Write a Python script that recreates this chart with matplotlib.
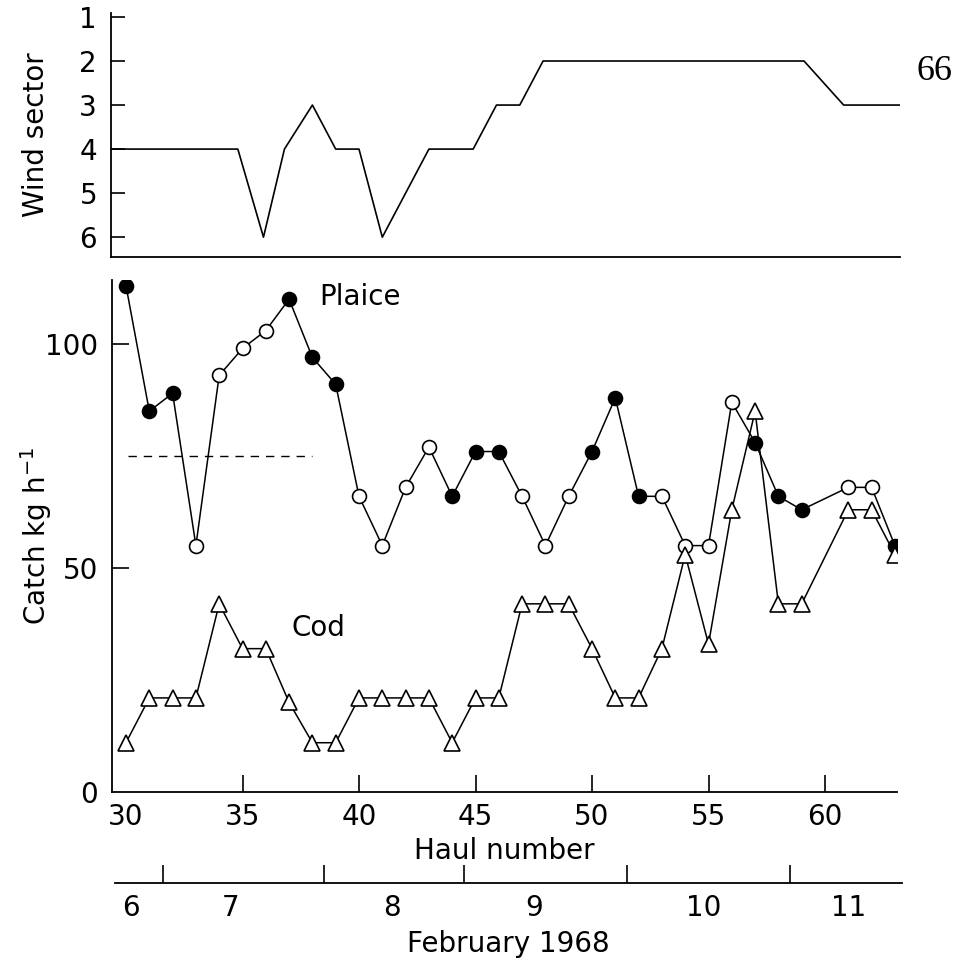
import matplotlib
matplotlib.use("Agg")
import matplotlib.pyplot as plt

plt.rcParams['font.family'] = ['DejaVu Sans']

# wind sector (top panel)
wind_haul = [29.4, 34.8, 35.9, 36.8, 38.0, 39.0, 40.0, 41.0, 43.0, 44.9, 45.9, 46.9, 47.9, 59.1, 60.8, 63.2]
wind_sector = [4, 4, 6, 4, 3, 4, 4, 6, 4, 4, 3, 3, 2, 2, 3, 3]

# catch (main panel)
haul = [30, 31, 32, 33, 34, 35, 36, 37, 38, 39, 40, 41, 42, 43, 44, 45, 46,
        47, 48, 49, 50, 51, 52, 53, 54, 55, 56, 57, 58, 59, 61, 62, 63]
plaice = [113, 85, 89, 55, 93, 99, 103, 110, 97, 91, 66, 55, 68, 77, 66, 76, 76,
          66, 55, 66, 76, 88, 66, 66, 55, 55, 87, 78, 66, 63, 68, 68, 55]
plaice_filled = [1, 1, 1, 0, 0, 0, 0, 1, 1, 1, 0, 0, 0, 0, 1, 1, 1,
                 0, 0, 0, 1, 1, 1, 0, 0, 0, 0, 1, 1, 1, 0, 0, 1]
cod = [11, 21, 21, 21, 42, 32, 32, 20, 11, 11, 21, 21, 21, 21, 11, 21, 21,
       42, 42, 42, 32, 21, 21, 32, 53, 33, 63, 85, 42, 42, 63, 63, 53]
mean_haul = [30.1, 38.0]
mean_plaice = [75, 75]

# February 1968 day axis
day_ticks = [31.6, 38.5, 44.5, 51.5, 58.5]
day_pos = [30.2, 34.5, 41.4, 47.5, 54.8, 61.0]
day_labels = ['6', '7', '8', '9', '10', '11']

W, H = 967, 963
def xl(l, r):
    # pixel edges -> haul numbers (haul 30 at x=126, 23.3 px per haul)
    return (30 + (l - 126) / 23.3, 30 + (r - 126) / 23.3)

fig = plt.figure(figsize=(9.67, 9.63), dpi=100)
fs = 20

# top panel
ax1 = fig.add_axes([111 / W, 1 - 257 / H, (900 - 111) / W, (257 - 13) / H])
ax1.plot(wind_haul, wind_sector, color='black', lw=1.2)
ax1.set_xlim(*xl(111, 900))
ax1.set_ylim(6.45, 0.91)
ax1.set_yticks([1, 2, 3, 4, 5, 6])
ax1.set_xticks([])
ax1.spines['top'].set_visible(False)
ax1.spines['right'].set_visible(False)
for s in ['left', 'bottom']:
    ax1.spines[s].set_linewidth(1.3)
ax1.tick_params(axis='y', direction='in', length=10, width=1.2, pad=10, labelsize=fs)
ax1.set_ylabel('Wind sector', fontsize=fs)
ax1.yaxis.set_label_coords((50 - 111) / 789, 0.5)
fig.text(935 / W, 1 - 72 / H, '66', fontsize=26, family='Liberation Serif',
         ha='center', va='center')

# main panel
ax = fig.add_axes([112 / W, 1 - 792 / H, (897 - 112) / W, (792 - 280) / H])
ax.plot(mean_haul, mean_plaice, color='black', lw=1.0, linestyle=(0, (6, 5)))
ax.plot(haul, plaice, color='black', lw=1.1, zorder=2)
ax.plot(haul, cod, color='black', lw=1.1, zorder=2)
for h, v, f in zip(haul, plaice, plaice_filled):
    ax.plot(h, v, marker='o', markersize=10, markeredgewidth=1.2,
            markeredgecolor='black', markerfacecolor='black' if f else 'white', zorder=3)
ax.plot(haul, cod, linestyle='none', marker='^', markersize=11, markeredgewidth=1.2,
        markeredgecolor='black', markerfacecolor='white', zorder=3)
ax.annotate('Plaice', xy=(360 / W, 1 - 297 / H), xycoords='figure fraction',
            fontsize=fs, ha='center', va='center')
ax.annotate('Cod', xy=(318 / W, 1 - 628 / H), xycoords='figure fraction',
            fontsize=fs, ha='center', va='center')
ax.set_xlim(*xl(112, 897))
ax.set_ylim(0, (792 - 280) / 4.48)
ax.set_yticks([0, 50, 100])
ax.set_xticks([30, 35, 40, 45, 50, 55, 60])
ax.xaxis.get_major_ticks()[0].tick1line.set_visible(False)
ax.yaxis.get_major_ticks()[0].tick1line.set_visible(False)
ax.spines['top'].set_visible(False)
ax.spines['right'].set_visible(False)
for s in ['left', 'bottom']:
    ax.spines[s].set_linewidth(1.3)
ax.tick_params(direction='in', length=12, width=1.2, labelsize=fs)
ax.tick_params(axis='x', pad=8)
ax.tick_params(axis='y', pad=10)
ax.set_xlabel('Haul number', fontsize=fs, labelpad=4)
ax.set_ylabel('Catch kg h$^{-1}$', fontsize=fs)
ax.yaxis.set_label_coords((54 - 112) / 785, 0.5)

# date axis
ax2 = fig.add_axes([115 / W, 1 - 883 / H, (902 - 115) / W, 0.01])
ax2.set_xlim(*xl(115, 902))
ax2.set_ylim(0, 1)
for s in ['left', 'right', 'top']:
    ax2.spines[s].set_visible(False)
ax2.spines['bottom'].set_linewidth(1.3)
ax2.set_yticks([])
ax2.set_xticks(day_ticks)
ax2.set_xticklabels([])
ax2.set_xticks(day_pos, minor=True)
ax2.set_xticklabels(day_labels, minor=True)
ax2.tick_params(axis='x', which='major', direction='in', length=13, width=1.2)
ax2.tick_params(axis='x', which='minor', length=0, pad=8, labelsize=fs)
ax2.set_xlabel('February 1968', fontsize=fs, labelpad=6)

fig.savefig('out.png', dpi=100)
